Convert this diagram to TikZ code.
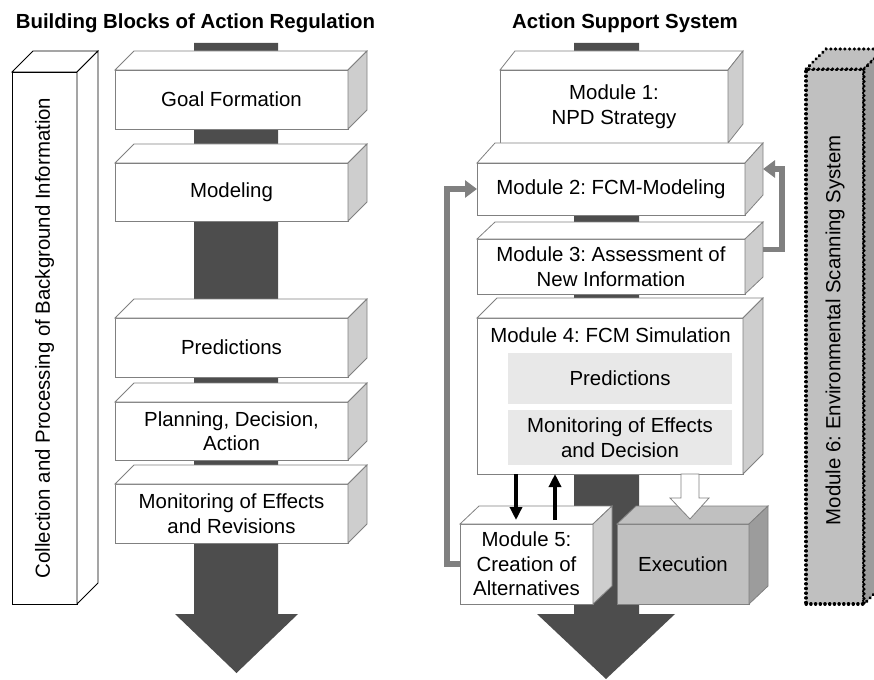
\documentclass[tikz,border=0pt]{standalone}
\usepackage{fontspec}
\setmainfont{Liberation Sans}
\usetikzlibrary{arrows.meta}
\frenchspacing

\definecolor{shaftgray}{RGB}{77,77,77}
\definecolor{edgegray}{RGB}{128,128,128}
\definecolor{sidegray}{RGB}{206,206,206}
\definecolor{innergray}{RGB}{232,232,232}
\definecolor{execgray}{RGB}{192,192,192}
\definecolor{execside}{RGB}{156,156,156}

% top face and right face of a block node: node, dx, dy, top style, side style
\newcommand{\boxfaces}[5]{%
  \draw[#4] (#1.north west) -- ++(#2,#3) -- ([shift={(#2,#3)}]#1.north east) -- (#1.north east) -- cycle;
  \draw[#5] (#1.north east) -- ++(#2,#3) -- ([shift={(#2,#3)}]#1.south east) -- (#1.south east) -- cycle;}

\begin{document}
\begin{tikzpicture}[x=1pt,y=1pt,yscale=-1,
  font=\fontsize{20.4}{24.5}\selectfont,
  blk/.style={draw=edgegray, fill=white, line width=0.8pt, inner sep=0pt, outer sep=0pt, align=center},
  face/.style={draw=edgegray, fill=white, line width=0.8pt},
  sideface/.style={draw=edgegray, fill=sidegray, line width=0.8pt},
  dotline/.style={draw=black, line width=3.2pt, line cap=round, dash pattern=on 0.4pt off 4.3pt},
  fbarrow/.style={draw=edgegray, line width=5.5pt, -{Triangle[length=12pt,width=17pt]}},
  blkarrow/.style={draw=black, line width=3.5pt, -{Triangle[length=13pt,width=12pt]}},
  headline/.style={font=\fontsize{20.4}{24.5}\selectfont\bfseries, anchor=base}]
\useasboundingbox (0,0) rectangle (874,679);

% Text Node
\node[headline] (titleleft) at (195.5,29) {Building Blocks of Action Regulation};
% Text Node
\node[headline] (titleright) at (625,29) {Action Support System};

%Shape: Big Arrow
\fill[shaftgray] (194,43) -- (278,43) -- (278,614) -- (298,614) -- (236.5,673) -- (175,614) -- (194,614) -- cycle;
%Shape: Big Arrow
\fill[shaftgray] (574,43) -- (639,43) -- (639,614) -- (675,614) -- (606,679) -- (537,614) -- (574,614) -- cycle;

%Shape: Column
\node[blk, draw=black, minimum width=65pt, minimum height=532pt] (collect) at (44.5,338) {};
\boxfaces{collect}{21}{-21}{draw=black, fill=white, line width=0.8pt}{draw=black, fill=white, line width=0.8pt}
\node[rotate=90] (collecttext) at (collect) {Collection and Processing of Background Information};

%Shape: Blocks of action regulation
\node[blk, minimum width=233pt, minimum height=59pt] (goal) at (231.5,99.5) {Goal Formation};
\boxfaces{goal}{19}{-19}{face}{sideface}
\node[blk, minimum width=233pt, minimum height=58pt] (model) at (231.5,192) {Modeling};
\boxfaces{model}{19}{-19}{face}{sideface}
\node[blk, minimum width=233pt, minimum height=59pt] (predict) at (231.5,347.5) {Predictions};
\boxfaces{predict}{19}{-19}{face}{sideface}
\node[blk, minimum width=233pt, minimum height=58pt] (plan) at (231.5,431) {Planning, Decision,\\Action};
\boxfaces{plan}{19}{-19}{face}{sideface}
\node[blk, minimum width=233pt, minimum height=59pt] (monitor) at (231.5,513.5) {Monitoring of Effects\\and Revisions};
\boxfaces{monitor}{19}{-19}{face}{sideface}

%Shape: Modules
\node[blk, minimum width=228pt, minimum height=73pt] (m1) at (614,106.5) {Module 1:\\NPD Strategy};
\boxfaces{m1}{15}{-19}{face}{sideface}
\node[blk, minimum width=268pt, minimum height=52pt] (m2) at (611,189) {Module 2: FCM-Modeling};
\boxfaces{m2}{18}{-20}{face}{sideface}
\node[blk, minimum width=268pt, minimum height=55pt] (m3) at (611,266.5) {Module 3: Assessment of\\New Information};
\boxfaces{m3}{18}{-17}{face}{sideface}
\node[blk, minimum width=266pt, minimum height=156pt] (m4) at (610,396) {};
\boxfaces{m4}{20}{-20}{face}{sideface}
\node (m4title) at (610.5,335) {Module 4: FCM Simulation};
\node[blk, draw=none, fill=innergray, minimum width=224pt, minimum height=51pt] (m4pred) at (620,378.5) {Predictions};
\node[blk, draw=none, fill=innergray, minimum width=224pt, minimum height=55pt] (m4mon) at (620,437.5) {Monitoring of Effects\\and Decision};

\node[blk, minimum width=133pt, minimum height=80pt] (m5) at (526.5,564) {Module 5:\\Creation of\\Alternatives};
\boxfaces{m5}{19}{-18}{face}{sideface}
\node[blk, fill=execgray, minimum width=132pt, minimum height=80pt] (exec) at (683,564) {Execution};
\boxfaces{exec}{19}{-18}{draw=edgegray, fill=execgray, line width=0.8pt}{draw=edgegray, fill=execside, line width=0.8pt}

%Shape: Module 6
\node[blk, dotline, fill=execgray, minimum width=58pt, minimum height=535pt] (m6) at (835,336.5) {};
\boxfaces{m6}{20}{-20}{dotline, fill=execgray}{dotline, fill=execside}
\node[rotate=90] (m6text) at (835,330) {Module 6: Environmental Scanning System};

%Straight Lines
\coordinate (down5) at (516,520);
\coordinate (up5) at (555,520);
\draw[blkarrow] (m4.south -| down5) -- (down5);
\draw[blkarrow] (up5) -- (m4.south -| up5);

%Shape: Hollow Arrow
\draw[draw=edgegray, fill=white, line width=0.8pt] (681,474) -- (699,474) -- (699,498) -- (709,498) -- (690,519) -- (670,498) -- (681,498) -- cycle;

%Straight Lines
\draw[fbarrow] (m5.west) -- ++(-13,0) |- (m2.west);
\draw[fbarrow] ([shift={(18,-17)}]m3.east) -- ++(19,0) |- ([shift={(18,-20)}]m2.east);

\end{tikzpicture}
\end{document}
